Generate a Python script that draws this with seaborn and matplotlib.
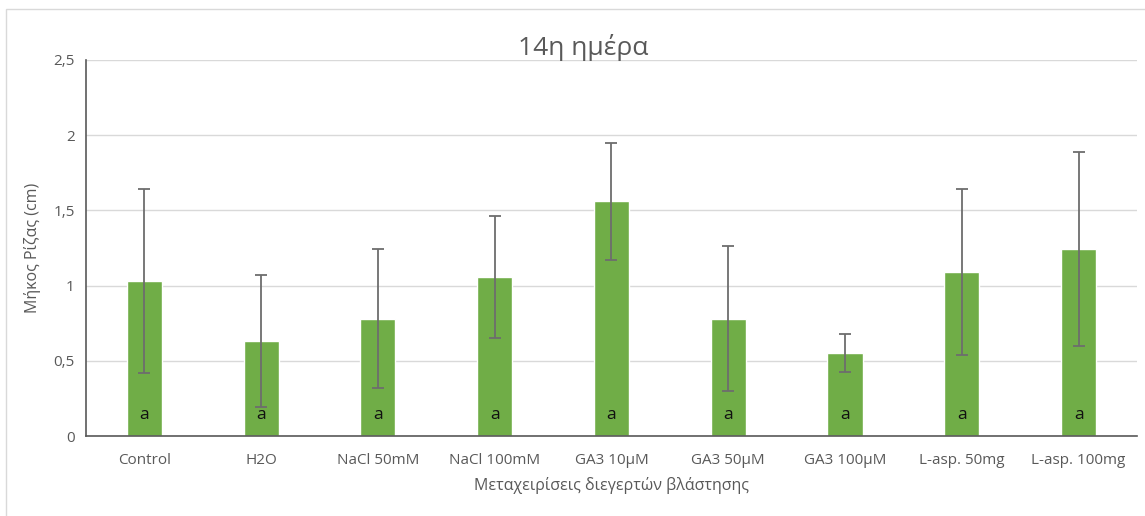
import pandas as pd
import matplotlib
matplotlib.use("Agg")
import matplotlib.pyplot as plt
import seaborn as sns
from matplotlib.patches import Rectangle
from matplotlib.ticker import FuncFormatter

TREATMENTS = ["Control", "H2O", "NaCl 50mM", "NaCl 100mM", "GA3 10μM",
              "GA3 50μM", "GA3 100μM", "L-asp. 50mg", "L-asp. 100mg"]
ROOT_LENGTH = [1.03, 0.63, 0.78, 1.055, 1.56, 0.78, 0.55, 1.09, 1.24]
ERROR = [0.61, 0.44, 0.46, 0.405, 0.39, 0.48, 0.125, 0.55, 0.645]
LETTERS = ["a"] * 9

GREEN = "#70AD47"
TEXT = "#595959"


def plot_chart(df):
    sns.set_theme(style="white")
    plt.rcParams["font.family"] = ["Open Sans", "DejaVu Sans"]
    fig = plt.figure(figsize=(11.45, 5.16), dpi=100)
    ax = fig.add_axes([0.075, 0.155, 0.918, 0.729])
    sns.barplot(data=df, x="treatment", y="length", color=GREEN,
                width=0.3, errorbar=None, saturation=1, ax=ax, zorder=2)
    ax.errorbar(x=range(len(df)), y=df["length"], yerr=df["err"], fmt="none",
                ecolor="#6d6d6d", elinewidth=1.3, capsize=4.3, capthick=1.3, zorder=3)
    for i, row in df.iterrows():
        ax.text(i, 0.14, row["letter"], ha="center", va="center",
                fontsize=12.5, color="#111111", zorder=4)

    ax.set_xlim(-0.5, len(df) - 0.5)
    ax.set_ylim(0, 2.5)
    ax.set_yticks([0, 0.5, 1, 1.5, 2, 2.5])
    ax.yaxis.set_major_formatter(FuncFormatter(lambda v, p: f"{v:g}".replace(".", ",")))
    ax.grid(axis="y", color="#d9d9d9", linewidth=1, zorder=0)
    ax.set_axisbelow(True)
    for s in ["top", "right"]:
        ax.spines[s].set_visible(False)
    ax.spines["left"].set_color("#595959")
    ax.spines["bottom"].set_color("#595959")
    ax.spines["left"].set_linewidth(1.2)
    ax.spines["bottom"].set_linewidth(1.2)
    ax.tick_params(axis="both", length=0, labelsize=11, colors=TEXT, pad=8)
    ax.tick_params(axis="x", pad=12)
    ax.set_xlabel("Μεταχειρίσεις διεγερτών βλάστησης", fontsize=11.5, color=TEXT, labelpad=7)
    ax.set_ylabel("Μήκος Ρίζας (cm)", fontsize=11.5, color=TEXT, labelpad=9)
    fig.text(0.509, 0.893, "14η ημέρα", fontsize=19, color=TEXT,
             ha="center", va="baseline")

    fig.patches.append(Rectangle((0.005, -0.01), 1.0, 0.993, transform=fig.transFigure,
                                 fill=False, edgecolor="#d9d9d9", linewidth=1))
    fig.savefig("out.png", dpi=100)


def main():
    df = pd.DataFrame({"treatment": TREATMENTS, "length": ROOT_LENGTH,
                       "err": ERROR, "letter": LETTERS})
    plot_chart(df)


if __name__ == "__main__":
    main()
